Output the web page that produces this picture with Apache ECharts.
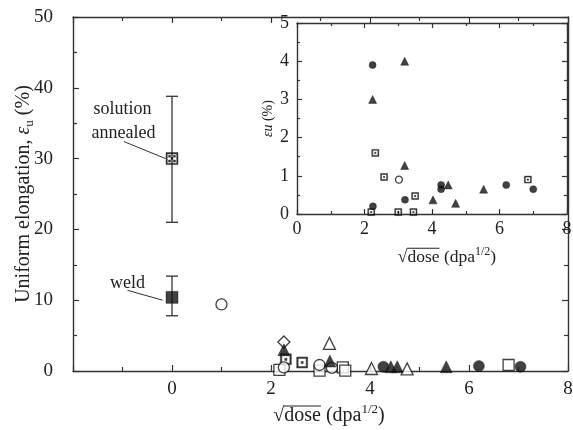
<!DOCTYPE html>
<html>
<head>
<meta charset="utf-8">
<script src="https://cdn.jsdelivr.net/npm/echarts@6/dist/echarts.min.js"></script>
<style>
  html, body { margin: 0; padding: 0; background: #fff; }
  #chart { width: 573px; height: 430px; }
</style>
</head>
<body>
<div id="chart"></div>
<script>
// ---- Main panel data: [sqrt(dose), uniform elongation %] ----
const mainFilledCircle = [[4.27, 0.6], [6.2, 0.7], [7.04, 0.6]];
const mainOpenCircle = [[1.0, 9.4], [2.26, 0.5], [2.98, 0.85], [3.23, 0.45]];
const mainFilledTriangle = [[2.26, 3.0], [3.19, 1.4], [4.42, 0.6], [4.55, 0.6], [5.54, 0.6]];
const mainOpenTriangle = [[3.18, 3.9], [4.03, 0.35], [4.75, 0.3]];
const mainOpenSquare = [[2.17, 0.15], [2.98, 0.05], [3.45, 0.5], [3.5, 0.05], [6.8, 0.85]];
const mainDotSquare = [[2.3, 1.65], [2.63, 1.2]];
const mainOpenDiamond = [[2.26, 4.1]];
const weldPoint = [[0, 10.4]];
const annealedPoint = [[0, 30]];
// [x, low, high]
const errorBars = [[0, 21, 38.8], [0, 7.8, 13.4]];

// ---- Inset data ----
const insetFilledCircle = [[2.24, 3.9], [2.25, 0.2], [3.2, 0.37], [4.27, 0.76], [4.27, 0.65], [6.2, 0.76], [7.0, 0.65]];
const insetFilledTriangle = [[2.24, 3.0], [3.19, 4.0], [3.19, 1.27], [4.03, 0.37], [4.48, 0.76], [4.7, 0.28], [5.53, 0.65]];
const insetOpenCircle = [[3.02, 0.9]];
const insetDotSquare = [[2.32, 1.6], [2.58, 0.97], [3.5, 0.47], [2.2, 0.05], [3.0, 0.05], [3.45, 0.05], [6.84, 0.9]];

// ---- Annotations (data coordinates) ----
const annotationText = [['solution', -1.0, 36.9], ['annealed', -0.98, 33.6], ['weld', -0.9, 12.4]];
const leaderLines = [[-0.97, 32.4, -0.13, 30.0], [-0.9, 11.4, -0.19, 10.0]];

// ---- Axis ranges ----
const mainXRange = [-2, 8];
const mainYRange = [0, 50];
const insetXRange = [0, 8];
const insetYRange = [0, 5];

const INK = '#222';
const LINE = '#333';
const SERIF = '"Liberation Serif", "Times New Roman", serif';

// square outline with a centre dot
const DOT_SQUARE = 'path://M0,0H10V10H0Z M1.4,1.4V8.6H8.6V1.4Z M4,4H6V6H4Z';
// square outline with a checker fill
const CHECK_SQUARE = 'path://M0,0H12V12H0Z M1.3,1.3V10.7H10.7V1.3Z M2.6,2.6H4.6V4.6H2.6Z M7.4,2.6H9.4V4.6H7.4Z M5,5H7V7H5Z M2.6,7.4H4.6V9.4H2.6Z M7.4,7.4H9.4V9.4H7.4Z';

const chart = echarts.init(document.getElementById('chart'), null, { renderer: 'canvas' });

function axisCommon(extra) {
  return Object.assign({
    axisLine: { show: true, onZero: false, lineStyle: { color: LINE, width: 1.4 } },
    axisTick: { show: true, inside: true, length: 6, lineStyle: { color: LINE, width: 1.2 } },
    minorTick: { show: true, splitNumber: 2, length: 4, lineStyle: { color: LINE, width: 1.2 } },
    splitLine: { show: false },
    minorSplitLine: { show: false }
  }, extra);
}

function scatter(name, data, x, y, symbol, size, filled, z) {
  return {
    type: 'scatter', name, data, xAxisIndex: x, yAxisIndex: y, symbol, symbolSize: size, z,
    itemStyle: filled
      ? { color: '#111', borderColor: '#111', borderWidth: 0.5 }
      : { color: '#fff', borderColor: '#111', borderWidth: 1.3 },
    emphasis: { disabled: true }
  };
}

// radical-sign axis title "√dose (dpa^1/2)" with a vinculum over "dose"
function radicalTitle(cx, cy, size, z) {
  const ctx = document.createElement('canvas').getContext('2d');
  const small = Math.round(size * 0.66);
  const parts = [
    { t: '\u221A', s: size, dy: 0 },
    { t: 'dose', s: size, dy: 0, bar: true },
    { t: ' (dpa', s: size, dy: 0 },
    { t: '1/2', s: small, dy: -size * 0.32 },
    { t: ')', s: size, dy: 0 }
  ];
  let total = 0;
  parts.forEach(p => { ctx.font = p.s + 'px ' + SERIF; p.w = ctx.measureText(p.t).width; total += p.w; });
  let x = cx - total / 2;
  const els = [];
  parts.forEach(p => {
    els.push({
      type: 'text', x: x, y: cy + p.dy, z: z,
      style: { text: p.t, fontSize: p.s, fontFamily: SERIF, fill: INK, textAlign: 'left', textVerticalAlign: 'middle' }
    });
    if (p.bar) {
      const yb = cy - size * 0.5;
      els.push({ type: 'line', z: z, shape: { x1: x - 0.5, y1: yb, x2: x + p.w, y2: yb }, style: { stroke: INK, lineWidth: 1.2 } });
    }
    x += p.w;
  });
  return els;
}

const option = {
  animation: false,
  backgroundColor: '#fff',
  grid: [
    { left: 73, top: 17, width: 495, height: 354, show: false, containLabel: false, outerBoundsMode: 'none' },
    { left: 297, top: 23, width: 270, height: 191, show: true, backgroundColor: '#fff', borderWidth: 0, z: 10, containLabel: false, outerBoundsMode: 'none' }
  ],
  xAxis: [
    axisCommon({
      gridIndex: 0, type: 'value', position: 'bottom', min: mainXRange[0], max: mainXRange[1], interval: 2,
      axisLabel: { show: true, margin: 9, fontSize: 19, fontFamily: SERIF, color: INK, formatter: v => (v === -2 ? '' : String(v)) }
    }),
    axisCommon({
      gridIndex: 0, type: 'value', position: 'top', min: mainXRange[0], max: mainXRange[1], interval: 2,
      axisLabel: { show: false }
    }),
    axisCommon({
      gridIndex: 1, type: 'value', position: 'bottom', min: insetXRange[0], max: insetXRange[1], interval: 2, z: 11,
      axisTick: { show: true, inside: true, length: 5, lineStyle: { color: LINE, width: 1.2 } },
      minorTick: { show: true, splitNumber: 2, length: 3, lineStyle: { color: LINE, width: 1.2 } },
      axisLabel: { show: true, margin: 6, fontSize: 18, fontFamily: SERIF, color: INK }
    }),
    axisCommon({
      gridIndex: 1, type: 'value', position: 'top', min: insetXRange[0], max: insetXRange[1], interval: 2, z: 11,
      axisTick: { show: true, inside: true, length: 5, lineStyle: { color: LINE, width: 1.2 } },
      minorTick: { show: true, splitNumber: 2, length: 3, lineStyle: { color: LINE, width: 1.2 } },
      axisLabel: { show: false }
    })
  ],
  yAxis: [
    axisCommon({
      gridIndex: 0, type: 'value', position: 'left', min: mainYRange[0], max: mainYRange[1], interval: 10,
      axisLabel: { show: true, margin: 20, fontSize: 19, fontFamily: SERIF, color: INK },
      name: '{t|Uniform elongation, }{e|\u03B5}{s|u}{t| (%)}',
      nameLocation: 'middle', nameRotate: 90, nameGap: 37, nameMoveOverlap: false,
      nameTextStyle: {
        rich: {
          t: { fontSize: 20, fontFamily: SERIF, color: INK, lineHeight: 24 },
          e: { fontSize: 20, fontFamily: SERIF, fontStyle: 'italic', color: INK, lineHeight: 24 },
          s: { fontSize: 13, fontFamily: SERIF, color: INK, verticalAlign: 'bottom', lineHeight: 24, padding: [6, 0, 0, 0] }
        }
      }
    }),
    axisCommon({
      gridIndex: 0, type: 'value', position: 'right', min: mainYRange[0], max: mainYRange[1], interval: 10,
      axisLabel: { show: false }
    }),
    axisCommon({
      gridIndex: 1, type: 'value', position: 'left', min: insetYRange[0], max: insetYRange[1], interval: 1, z: 11,
      axisTick: { show: true, inside: true, length: 5, lineStyle: { color: LINE, width: 1.2 } },
      minorTick: { show: true, splitNumber: 2, length: 3, lineStyle: { color: LINE, width: 1.2 } },
      axisLabel: { show: true, margin: 8, fontSize: 18, fontFamily: SERIF, color: INK },
      name: '{e|\u03B5u} {t|(%)}',
      nameLocation: 'middle', nameRotate: 90, nameGap: 22,
      nameTextStyle: {
        rich: {
          e: { fontSize: 14, fontFamily: SERIF, fontStyle: 'italic', color: INK },
          t: { fontSize: 14, fontFamily: SERIF, color: INK }
        }
      }
    }),
    axisCommon({
      gridIndex: 1, type: 'value', position: 'right', min: insetYRange[0], max: insetYRange[1], interval: 1, z: 11,
      axisTick: { show: true, inside: true, length: 5, lineStyle: { color: LINE, width: 1.2 } },
      minorTick: { show: true, splitNumber: 2, length: 3, lineStyle: { color: LINE, width: 1.2 } },
      axisLabel: { show: false }
    })
  ],
  graphic: radicalTitle(329, 416, 20, 20).concat(radicalTitle(447, 257, 17.5, 20)),
  series: [
    // error bars
    {
      type: 'custom', xAxisIndex: 0, yAxisIndex: 0, z: 1, data: errorBars,
      renderItem: function (params, api) {
        const top = api.coord([api.value(0), api.value(2)]);
        const bot = api.coord([api.value(0), api.value(1)]);
        const cap = 6;
        const st = { stroke: LINE, lineWidth: 1.3 };
        return {
          type: 'group', children: [
            { type: 'line', shape: { x1: top[0], y1: top[1], x2: bot[0], y2: bot[1] }, style: st },
            { type: 'line', shape: { x1: top[0] - cap, y1: top[1], x2: top[0] + cap, y2: top[1] }, style: st },
            { type: 'line', shape: { x1: bot[0] - cap, y1: bot[1], x2: bot[0] + cap, y2: bot[1] }, style: st }
          ]
        };
      }
    },
    // leader lines
    {
      type: 'custom', xAxisIndex: 0, yAxisIndex: 0, z: 1, data: leaderLines,
      renderItem: function (params, api) {
        const a = api.coord([api.value(0), api.value(1)]);
        const b = api.coord([api.value(2), api.value(3)]);
        return { type: 'line', shape: { x1: a[0], y1: a[1], x2: b[0], y2: b[1] }, style: { stroke: LINE, lineWidth: 1 } };
      }
    },
    // annotation text
    {
      type: 'custom', xAxisIndex: 0, yAxisIndex: 0, z: 3,
      data: annotationText.map(d => [d[1], d[2]]),
      renderItem: function (params, api) {
        const p = api.coord([api.value(0), api.value(1)]);
        return {
          type: 'text', x: p[0], y: p[1],
          style: { text: annotationText[params.dataIndex][0], fontSize: 18, fontFamily: SERIF, fill: INK, textAlign: 'center', textVerticalAlign: 'middle' }
        };
      }
    },
    scatter('annealed', annealedPoint, 0, 0, CHECK_SQUARE, 12, true, 2),
    scatter('weld', weldPoint, 0, 0, 'rect', 12, true, 2),
    scatter('open square', mainOpenSquare, 0, 0, 'rect', 11, false, 2),
    scatter('dot square', mainDotSquare, 0, 0, DOT_SQUARE, 11, true, 2),
    scatter('open circle', mainOpenCircle, 0, 0, 'circle', 11, false, 2),
    scatter('open diamond', mainOpenDiamond, 0, 0, 'diamond', 12, false, 2),
    scatter('open triangle', mainOpenTriangle, 0, 0, 'triangle', 12, false, 2),
    scatter('filled triangle', mainFilledTriangle, 0, 0, 'triangle', 12, true, 2),
    scatter('filled circle', mainFilledCircle, 0, 0, 'circle', 11, true, 2),
    // inset
    scatter('inset dot square', insetDotSquare, 2, 2, DOT_SQUARE, 7, true, 12),
    scatter('inset open circle', insetOpenCircle, 2, 2, 'circle', 7, false, 12),
    scatter('inset filled triangle', insetFilledTriangle, 2, 2, 'triangle', 8, true, 12),
    scatter('inset filled circle', insetFilledCircle, 2, 2, 'circle', 7, true, 12)
  ]
};

chart.setOption(option);
</script>
</body>
</html>
